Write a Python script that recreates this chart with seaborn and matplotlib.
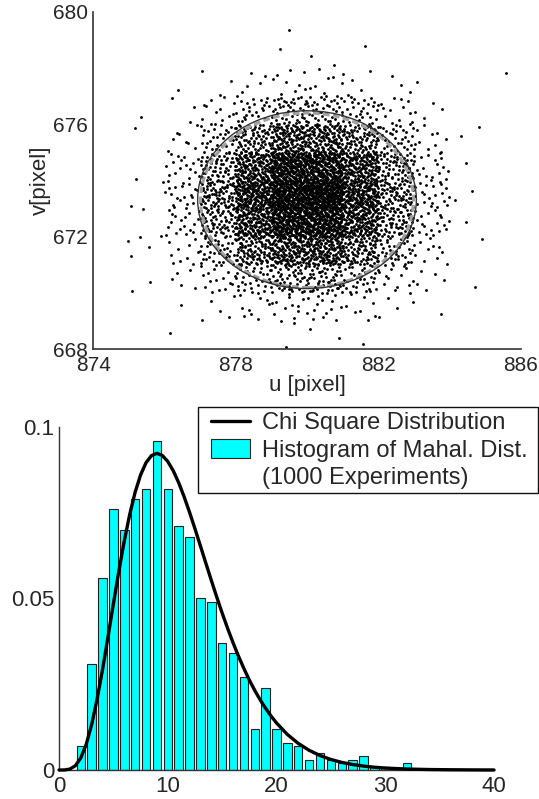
import numpy as np
import pandas as pd
import matplotlib
matplotlib.use("Agg")
import matplotlib.pyplot as plt
from matplotlib.patches import Ellipse, Rectangle, Patch
from matplotlib.lines import Line2D
import seaborn as sns

# ---------------- top panel: point cloud, counted per 1x1 pixel cell ----------------
U_CELLS = [874, 875, 876, 877, 878, 879, 880, 881, 882, 883, 884, 885]   # left edge of columns
V_CELLS = [679, 678, 677, 676, 675, 674, 673, 672, 671, 670, 669, 668]   # bottom edge of rows
CLOUD_COUNTS = [
    [0, 0, 0, 0, 0, 1, 0, 0, 0, 0, 0, 0],
    [0, 0, 0, 0, 0, 1, 2, 1, 0, 0, 0, 0],
    [0, 0, 1, 3, 5, 9, 8, 5, 3, 1, 0, 1],
    [0, 1, 3, 12, 27, 42, 40, 29, 12, 4, 0, 0],
    [0, 1, 8, 31, 74, 120, 114, 78, 34, 10, 2, 0],
    [0, 1, 16, 60, 143, 228, 221, 148, 64, 17, 1, 0],
    [0, 2, 21, 81, 189, 283, 287, 182, 75, 21, 2, 0],
    [0, 2, 18, 65, 159, 244, 238, 155, 69, 18, 1, 0],
    [1, 3, 10, 39, 91, 135, 140, 87, 36, 10, 1, 0],
    [0, 2, 5, 16, 34, 51, 53, 33, 14, 5, 1, 0],
    [0, 0, 1, 5, 9, 13, 13, 8, 4, 1, 0, 0],
    [0, 0, 1, 0, 0, 2, 2, 1, 0, 0, 0, 0],
]
# uncertainty ellipses (center u, center v, semi-axis u, semi-axis v)
ELLIPSE_EST = (880.0, 673.32, 3.07, 3.16)
ELLIPSE_REF = (880.0, 673.30, 2.99, 3.10)

# ---------------- bottom panel: histogram + chi square curve ----------------
BIN_CENTERS = list(range(2, 33))
BIN_HEIGHTS = [0.007, 0.031, 0.056, 0.076, 0.070, 0.079, 0.082, 0.096, 0.082, 0.071,
               0.068, 0.050, 0.049, 0.037, 0.034, 0.027, 0.012, 0.024, 0.012, 0.008,
               0.007, 0.003, 0.005, 0.003, 0.002, 0.003, 0.004, 0.001, 0.001, 0.000,
               0.002]
CHI_X = [0, 0.5, 1, 1.5, 2, 2.5, 3, 3.5, 4, 4.5, 5, 5.5, 6, 6.5, 7, 7.5, 8, 8.5, 9, 9.5,
         10, 10.5, 11, 11.5, 12, 12.5, 13, 13.5, 14, 14.5, 15, 15.5, 16, 16.5, 17, 17.5,
         18, 18.5, 19, 19.5, 20, 21, 22, 23, 24, 25, 26, 27, 28, 29, 30, 32, 34, 36, 38, 40]
CHI_Y = [0.0, 0.00001, 0.00026, 0.00124, 0.00351, 0.00747, 0.01322, 0.02060, 0.02924,
         0.03871, 0.04845, 0.05793, 0.06673, 0.07450, 0.08099, 0.08603, 0.08958, 0.09165,
         0.09232, 0.09170, 0.08995, 0.08726, 0.08379, 0.07970, 0.07517, 0.07035, 0.06536,
         0.06032, 0.05533, 0.05046, 0.04577, 0.04132, 0.03713, 0.03321, 0.02959, 0.02625,
         0.02320, 0.02045, 0.01796, 0.01572, 0.01372, 0.01036, 0.00775, 0.00574, 0.00422,
         0.00307, 0.00222, 0.00160, 0.00114, 0.00081, 0.00057, 0.00028, 0.00014, 0.00007,
         0.00003, 0.00001]
LEGEND_LABELS = ["Chi Square Distribution", "Histogram of Mahal. Dist.", "(1000 Experiments)"]


def radical_inverse(n, base):
    """van der Corput spreading of the points inside one cell"""
    n = n.copy()
    out = np.zeros(len(n))
    f = 1.0 / base
    while n.any():
        out += f * (n % base)
        n //= base
        f /= base
    return out


rows = []
k0 = 1
for i, v0 in enumerate(V_CELLS):
    for j, u0 in enumerate(U_CELLS):
        c = CLOUD_COUNTS[i][j]
        if c == 0:
            continue
        idx = np.arange(k0, k0 + c)
        k0 += c
        rows.append(pd.DataFrame({"u": u0 + radical_inverse(idx, 2),
                                  "v": v0 + radical_inverse(idx, 3)}))
cloud = pd.concat(rows, ignore_index=True)
hist_df = pd.DataFrame({"d": BIN_CENTERS, "p": BIN_HEIGHTS})
chi_df = pd.DataFrame({"x": CHI_X, "y": CHI_Y})

sns.set_style("white")
plt.rcParams["font.family"] = ["Liberation Sans", "DejaVu Sans"]

fig = plt.figure(figsize=(5.39, 7.99), dpi=100)

# ---- top scatter
ax1 = fig.add_axes([0.1731, 0.5628, 0.793, 0.4225])
sns.scatterplot(data=cloud, x="u", y="v", marker="o", s=4.2, color="k",
                linewidth=0, ax=ax1, zorder=2)
cu, cv, au, av = ELLIPSE_REF
ax1.add_patch(Ellipse((cu, cv), 2 * au, 2 * av, fill=False, edgecolor="#a0a0a0",
                      lw=2.2, linestyle=(0, (2.2, 1.1)), zorder=3))
cu, cv, au, av = ELLIPSE_EST
ax1.add_patch(Ellipse((cu, cv), 2 * au, 2 * av, fill=False, edgecolor="#333333",
                      lw=1.0, zorder=4))
ax1.set_xlim(874, 886)
ax1.set_ylim(668, 680)
ax1.set_xticks([874, 878, 882, 886])
ax1.set_yticks([668, 672, 676, 680])
ax1.set_xlabel("u [pixel]", fontsize=16, labelpad=0)
ax1.set_ylabel("v[pixel]", fontsize=16, labelpad=1)
ax1.tick_params(direction="in", length=4, width=0.8, labelsize=15, color="#333333")
ax1.tick_params(axis="x", pad=5)
ax1.tick_params(axis="y", pad=4)
for s in ["top", "right"]:
    ax1.spines[s].set_visible(False)
for s in ["left", "bottom"]:
    ax1.spines[s].set_color("#333333")
    ax1.spines[s].set_linewidth(1.2)

# ---- bottom histogram
ax2 = fig.add_axes([0.1095, 0.0363, 0.807, 0.4293])
sns.histplot(data=hist_df, x="d", weights="p", discrete=True, shrink=0.78,
             color="#00ffff", edgecolor="#222222", linewidth=0.8, alpha=1, ax=ax2)
sns.lineplot(data=chi_df, x="x", y="y", color="k", linewidth=2.4, ax=ax2,
             zorder=5, clip_on=False)
ax2.set_xlim(0, 40)
ax2.set_ylim(0, 0.1)
ax2.set_xticks([0, 10, 20, 30, 40])
ax2.set_yticks([0, 0.05, 0.1])
ax2.set_yticklabels(["0", "0.05", "0.1"])
ax2.set_xlabel("")
ax2.set_ylabel("")
ax2.tick_params(direction="in", length=4, width=0.8, labelsize=16, color="#333333")
ax2.tick_params(axis="x", pad=4.5)
ax2.tick_params(axis="y", pad=3.5)
for s in ["top", "right"]:
    ax2.spines[s].set_visible(False)
for s in ["left", "bottom"]:
    ax2.spines[s].set_color("#333333")
    ax2.spines[s].set_linewidth(1.0)

handles = [Line2D([], [], color="k", lw=2.4),
           Patch(facecolor="#00ffff", edgecolor="#222222", lw=0.8),
           Patch(visible=False)]
W, H = 539.0, 799.0
ax2.legend(handles, LEGEND_LABELS, loc="upper left", frameon=False, fontsize=17,
           bbox_to_anchor=(208.4 / W, 1 - 409.5 / H), bbox_transform=fig.transFigure,
           borderpad=0.1, labelspacing=0.2, handlelength=1.65, handleheight=0.85,
           handletextpad=0.5, borderaxespad=0)
fig.patches.append(Rectangle((197.7 / W, 1 - 492.7 / H), 340.6 / W, 85.4 / H,
                             transform=fig.transFigure, fill=False,
                             edgecolor="#111111", lw=1.0, zorder=10))

fig.savefig("out.png", dpi=100)
